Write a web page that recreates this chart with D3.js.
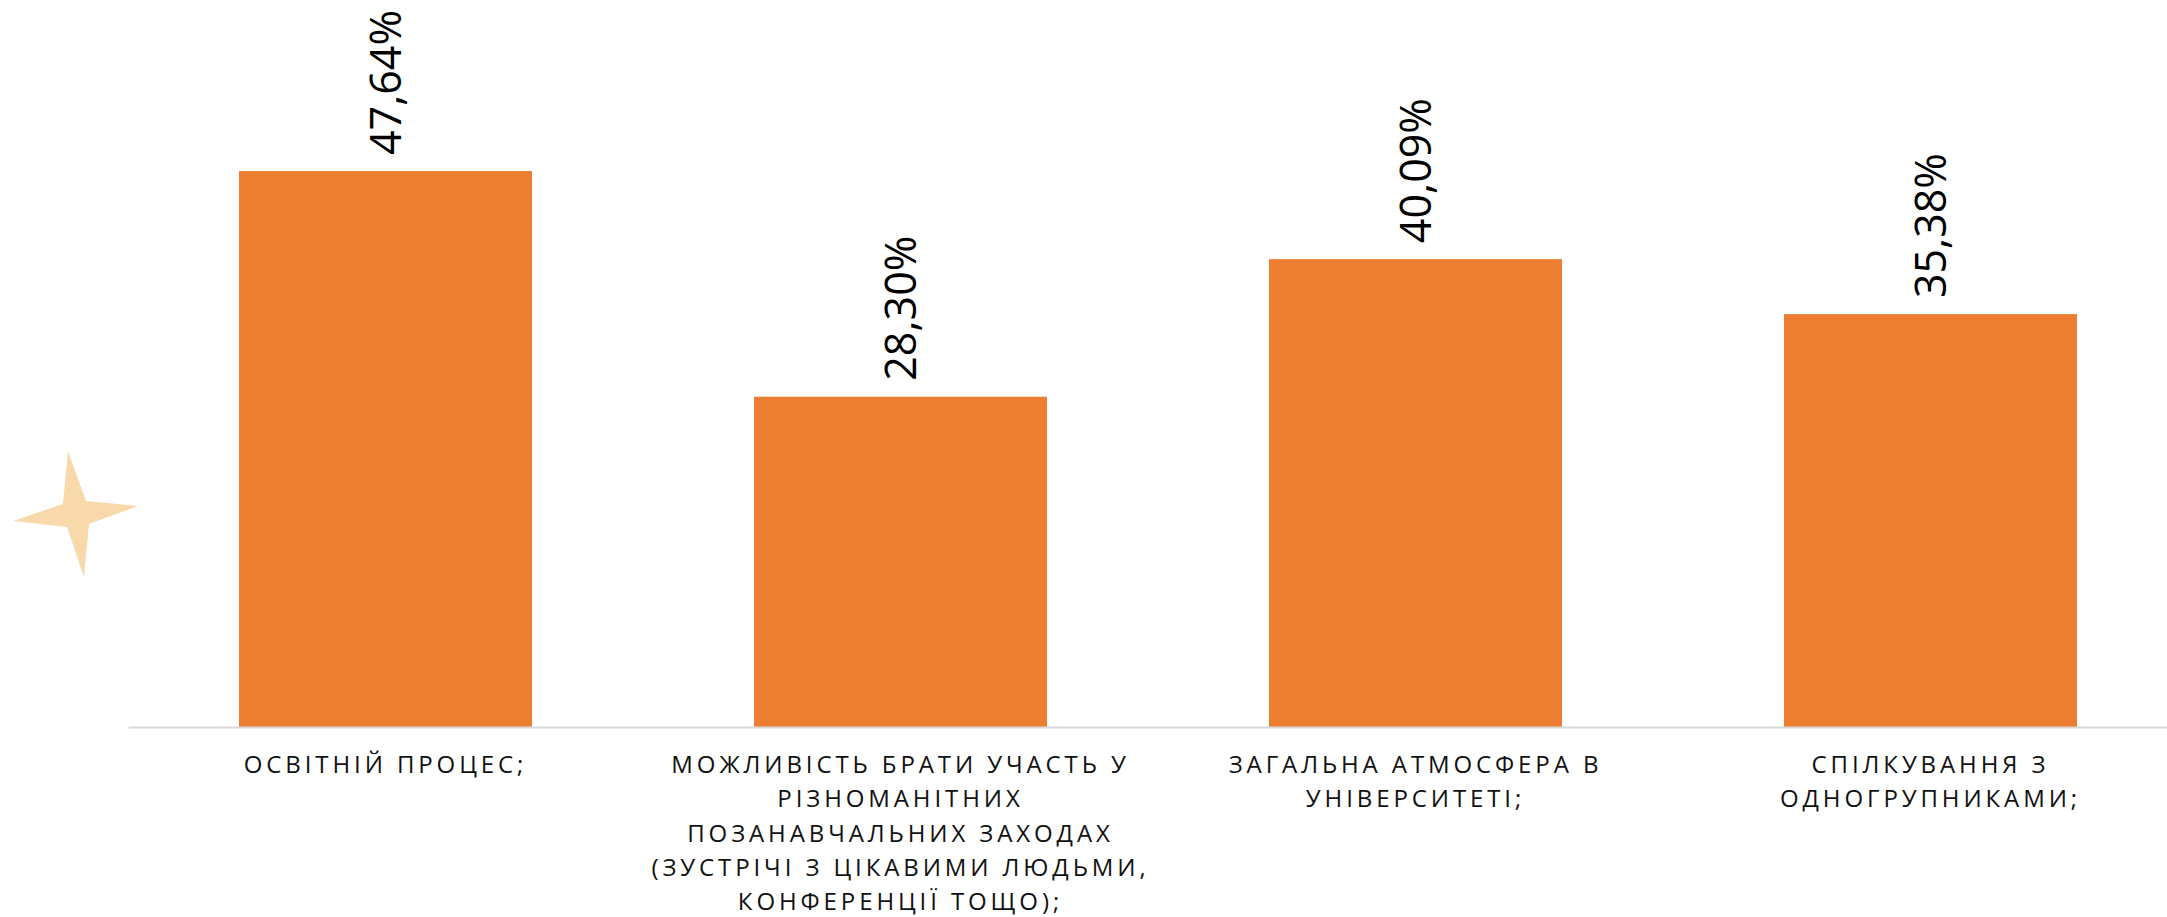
<!DOCTYPE html>
<html>
<head>
<meta charset="utf-8">
<script src="https://cdn.jsdelivr.net/npm/d3@7"></script>
<style>
  html, body { margin: 0; padding: 0; background: #ffffff; }
  svg { display: block; }
</style>
</head>
<body>
<svg id="chart" width="2167" height="917"></svg>
<script>
// ---- data ----
const categories = [
  "ОСВІТНІЙ ПРОЦЕС;",
  "МОЖЛИВІСТЬ БРАТИ УЧАСТЬ У\nРІЗНОМАНІТНИХ\nПОЗАНАВЧАЛЬНИХ ЗАХОДАХ\n(ЗУСТРІЧІ З ЦІКАВИМИ ЛЮДЬМИ,\nКОНФЕРЕНЦІЇ ТОЩО);",
  "ЗАГАЛЬНА АТМОСФЕРА В\nУНІВЕРСИТЕТІ;",
  "СПІЛКУВАННЯ З\nОДНОГРУПНИКАМИ;"
];
const values = [47.64, 28.30, 40.09, 35.38];
const valueLabels = ["47,64%", "28,30%", "40,09%", "35,38%"];

// ---- layout ----
const W = 2167, H = 917;
const baseY = 727;
const svg = d3.select("#chart");

const x = d3.scaleBand()
  .domain(categories)
  .range([128, 2188])
  .paddingInner(0.431)
  .paddingOuter(0.2155);

const y = d3.scaleLinear()
  .domain([0, 50])
  .range([baseY, baseY - 583.5]);

// decorative star
const starPts = [[68,451],[86,501],[138,506],[89,524],[84,577],[67,527],[13,521],[63,504]];
svg.append("path")
  .attr("d", d3.line()(starPts) + "Z")
  .attr("fill", "#f7d9ab");

// bars
svg.selectAll("rect.bar")
  .data(values)
  .join("rect")
  .attr("class", "bar")
  .attr("x", (d, i) => x(categories[i]))
  .attr("width", x.bandwidth())
  .attr("y", d => y(d))
  .attr("height", d => baseY - y(d))
  .attr("fill", "#ED7D31");

// axis line
const xAxis = d3.axisBottom(x).tickSize(0).tickFormat("");
const axisG = svg.append("g").attr("transform", `translate(0,${baseY})`).call(xAxis);
axisG.select(".domain").attr("stroke", "#d9d9d9").attr("stroke-width", 2);

// value labels (rotated)
svg.selectAll("text.val")
  .data(values)
  .join("text")
  .attr("class", "val")
  .attr("transform", (d, i) => `translate(${x(categories[i]) + x.bandwidth() / 2},${y(d) - 16}) rotate(-90)`)
  .attr("dy", "0.36em")
  .attr("text-anchor", "start")
  .attr("font-family", "'Open Sans', 'DejaVu Sans', sans-serif")
  .attr("font-size", 43)
  .attr("fill", "#000")
  .text((d, i) => valueLabels[i]);

// category labels
const catG = svg.selectAll("text.cat")
  .data(categories)
  .join("text")
  .attr("class", "cat")
  .attr("x", d => x(d) + x.bandwidth() / 2)
  .attr("y", baseY + 46)
  .attr("text-anchor", "middle")
  .attr("font-family", "'Open Sans', sans-serif")
  .attr("font-size", 24)
  .attr("letter-spacing", "3.9px")
  .attr("fill", "#111");

catG.each(function(d) {
  const t = d3.select(this);
  d.split("\n").forEach((line, j) => {
    t.append("tspan")
      .attr("x", x(d) + x.bandwidth() / 2)
      .attr("dy", j === 0 ? 0 : 34.3)
      .text(line);
  });
});
</script>
</body>
</html>
